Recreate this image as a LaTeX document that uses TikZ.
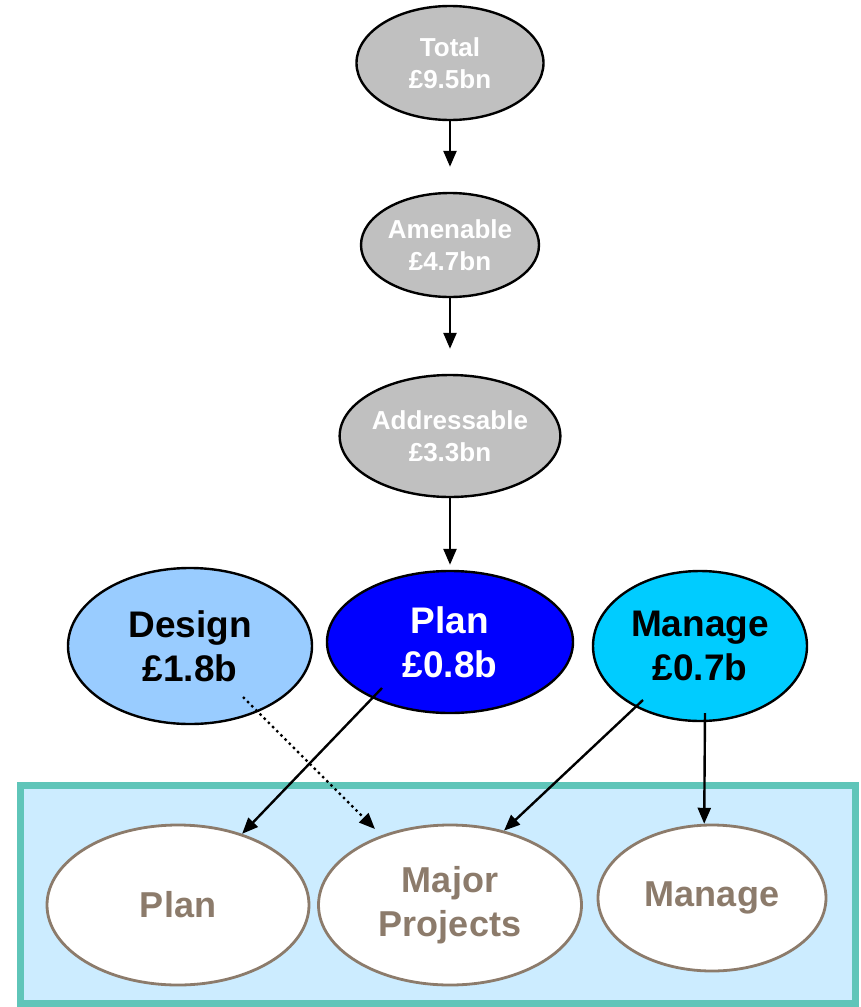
\documentclass[tikz,border=0pt]{standalone}
\usepackage{fontspec}
\setmainfont{Liberation Sans}
\usepackage{tikz}
\usetikzlibrary{shapes.geometric, arrows.meta, positioning, calc}
\usepackage{xcolor}
\definecolor{spendgrey}{RGB}{192, 192, 192}
\definecolor{designblue}{RGB}{153, 204, 255}
\definecolor{planblue}{RGB}{0, 0, 255}
\definecolor{manageblue}{RGB}{0, 204, 255}
\definecolor{areabrown}{RGB}{140, 123, 107}
\definecolor{panelteal}{RGB}{95, 197, 185}
\definecolor{panelfill}{RGB}{204, 236, 255}

\begin{document}
\begin{tikzpicture}[x=1pt, y=-1pt,
    total/.style={ellipse, draw=black, line width=2.4pt, fill=spendgrey, text=white,
                  inner sep=0pt, align=center, font=\fontsize{26}{32}\selectfont\bfseries},
    spend/.style={ellipse, draw=black, line width=2.4pt, inner sep=0pt, align=center,
                  font=\fontsize{37}{44}\selectfont\bfseries},
    area/.style={ellipse, draw=areabrown, line width=2.8pt, fill=white, text=areabrown,
                 inner sep=0pt, align=center, font=\fontsize{36}{44}\selectfont\bfseries},
    panel/.style={rectangle, draw=panelteal, fill=panelfill, line width=7pt},
    arrow/.style={-{Triangle[length=16pt, width=13pt]}, line width=2.4pt, black},
    hint/.style={arrow, dash pattern=on 2.4pt off 3.5pt}
]
\useasboundingbox (0,0) rectangle (861,1007);

% spend chain
\node[total, minimum width=187pt, minimum height=114pt] (total) at (450,63) {Total\\£9.5bn};
\node[total, minimum width=178pt, minimum height=104pt] (amenable) at (450,245) {Amenable\\£4.7bn};
\node[total, minimum width=216pt, minimum height=122pt] (addressable) at (450,436) {Addressable\\£3.3bn};

\node[spend, fill=designblue, minimum width=244pt, minimum height=156pt] (design) at (190,646) {Design\\£1.8b};
\node[spend, fill=planblue, text=white, minimum width=246pt, minimum height=142pt] (plan) at (450,642) {Plan\\£0.8b};
\node[spend, fill=manageblue, minimum width=214pt, minimum height=150pt] (manage) at (700,646) {Manage\\£0.7b};

% delivery areas
\node[panel, minimum width=835pt, minimum height=218pt] (areas) at (437.5,894.5) {};
\node[area, minimum width=262pt, minimum height=160pt] (lplan) at (178,905) {Plan};
\node[area, minimum width=263pt, minimum height=160pt] (major) at (450,905) {Major\\Projects};
\node[area, minimum width=228pt, minimum height=146pt] (lmanage) at (712,898) {Manage};

\draw[arrow, shorten >=25pt] (total) -- (amenable);
\draw[arrow, shorten >=25pt] (amenable) -- (addressable);
\draw[arrow, shorten >=5pt] (addressable) -- (plan);

\draw[arrow] ($(plan)+(-68,46)$) -- (lplan.48);
\draw[hint] ($(design)+(53,51)$) -- ($(major)+(-75,-76)$);
\draw[arrow] ($(manage)+(-57,54)$) -- (major.54);
\draw[arrow] ($(manage)+(5,67)$) -- (lmanage.96);

\end{tikzpicture}
\end{document}
